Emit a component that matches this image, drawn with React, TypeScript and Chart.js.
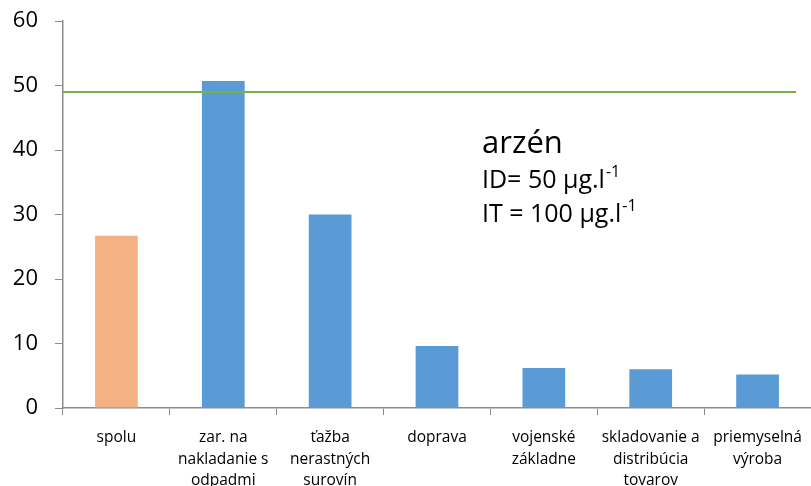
import React, { useEffect, useRef } from "react";
import { Chart, registerables } from "chart.js";

Chart.register(...registerables);

const categories: string[][] = [
  ["spolu"],
  ["zar. na", "nakladanie s", "odpadmi"],
  ["ťažba", "nerastných", "surovín"],
  ["doprava"],
  ["vojenské", "základne"],
  ["skladovanie a", "distribúcia", "tovarov"],
  ["priemyselná", "výroba"],
];
const values: number[] = [26.7, 50.7, 30.0, 9.6, 6.2, 6.0, 5.2];
const barColors: string[] = ["#F4B183", "#5B9BD5", "#5B9BD5", "#5B9BD5", "#5B9BD5", "#5B9BD5", "#5B9BD5"];
const limitValue = 49;
const titleText = "arzén";
const line1 = "ID= 50 μg.l";
const line2 = "IT = 100 μg.l";
const supText = "-1";

const overlayPlugin = {
  id: "overlay",
  afterDatasetsDraw(chart: any) {
    const { ctx, chartArea, scales } = chart;
    const y = Math.round(scales.y.getPixelForValue(limitValue));
    ctx.save();
    ctx.strokeStyle = "#74B04C";
    ctx.lineWidth = 2;
    ctx.beginPath();
    ctx.moveTo(chartArea.left, y);
    ctx.lineTo(chartArea.right - 15, y);
    ctx.stroke();

    ctx.fillStyle = "#000000";
    ctx.textAlign = "left";
    ctx.textBaseline = "alphabetic";
    const x0 = 482;
    ctx.font = "31px 'Open Sans'";
    ctx.fillText(titleText, x0, 153);
    const drawSup = (txt: string, base: number) => {
      ctx.font = "25px 'Open Sans'";
      ctx.fillText(txt, x0, base);
      const w = ctx.measureText(txt).width;
      ctx.font = "16px 'Open Sans'";
      ctx.fillText(supText, x0 + w + 1, base - 11);
    };
    drawSup(line1, 188);
    drawSup(line2, 222);
    ctx.restore();
  },
};

export default function App() {
  const ref = useRef<HTMLCanvasElement | null>(null);
  useEffect(() => {
    if (!ref.current) return;
    const chart = new Chart(ref.current, {
      type: "bar",
      data: {
        labels: categories,
        datasets: [
          {
            data: values,
            backgroundColor: barColors,
            categoryPercentage: 1,
            barPercentage: 0.4,
          },
        ],
      },
      options: {
        animation: false,
        responsive: true,
        maintainAspectRatio: false,
        layout: { padding: { top: 21, left: 0, right: 0, bottom: 0 } },
        plugins: { legend: { display: false }, tooltip: { enabled: false } },
        scales: {
          x: {
            grid: {
              drawOnChartArea: false,
              drawTicks: true,
              tickLength: 7,
              color: "#8C8C8C",
              offset: true,
            },
            border: { display: true, color: "#8C8C8C", width: 1.5 },
            ticks: {
              color: "#000000",
              font: { family: "'Open Sans'", size: 15.5, lineHeight: 1.38 },
              padding: 12,
              maxRotation: 0,
              autoSkip: false,
            },
            afterFit: (scale: any) => {
              scale.height = 78;
              scale.paddingLeft = 0;
              scale.paddingRight = 0;
            },
          },
          y: {
            min: 0,
            max: 60,
            grid: {
              drawOnChartArea: false,
              drawTicks: true,
              tickLength: 8,
              color: "#8C8C8C",
            },
            border: { display: true, color: "#8C8C8C", width: 1.5 },
            ticks: {
              stepSize: 10,
              color: "#000000",
              font: { family: "'Open Sans'", size: 22 },
              padding: 17,
            },
            afterFit: (scale: any) => {
              scale.width = 63;
              scale.paddingTop = 0;
              scale.paddingBottom = 0;
            },
          },
        },
      },
      plugins: [overlayPlugin],
    });
    return () => chart.destroy();
  }, []);
  return (
    <div style={{ position: "absolute", left: 0, top: 0, width: 811, height: 486, background: "#fff" }}>
      <canvas ref={ref} />
    </div>
  );
}
